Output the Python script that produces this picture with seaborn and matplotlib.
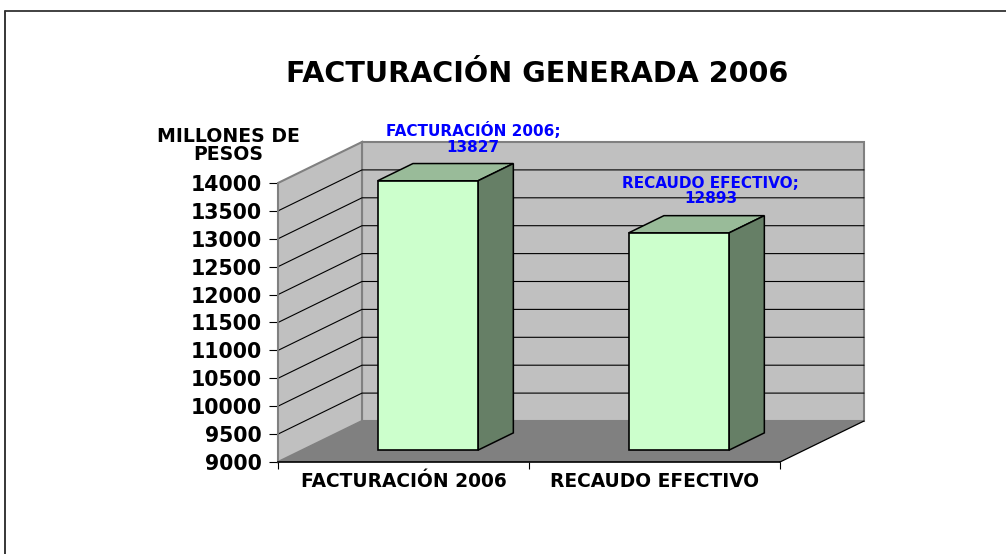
import matplotlib
matplotlib.use("Agg")
import matplotlib.pyplot as plt
import pandas as pd
import seaborn as sns

# Values
categories = ["FACTURACIÓN 2006", "RECAUDO EFECTIVO"]
values = [13827, 12893]
y_ticks = [9000, 9500, 10000, 10500, 11000, 11500, 12000, 12500, 13000, 13500, 14000]

data = pd.DataFrame({"categoria": categories, "valor": values})

sns.set_theme(style="white")
plt.rcParams["font.family"] = ["DejaVu Sans"]
plt.rcParams["font.weight"] = "bold"

W, H = 1006, 554
fig = plt.figure(figsize=(W / 100, H / 100), dpi=100)
ax = fig.add_axes([278 / W, (H - 462) / H, (780 - 278) / W, (462 - 183) / H])
ax.patch.set_alpha(0)

y_min, y_max = y_ticks[0], y_ticks[-1]
x_min, x_max = -0.5, len(categories) - 0.5
ax.set_xlim(x_min, x_max)
ax.set_ylim(y_min, y_max)

# 3D look: depth 1 is the back wall, expressed in data units
depth_x = 84 / 251
depth_y = 41 / 279 * (y_max - y_min)


def proj(x, y, d):
    return x + d * depth_x, y + d * depth_y


def face(points, color, edge="none", lw=1.0, z=1):
    xs, ys = zip(*[proj(*p) for p in points])
    ax.fill(xs, ys, facecolor=color, edgecolor=edge, linewidth=lw, zorder=z, clip_on=False)


# walls and floor
face([(x_min, y_min, 1), (x_max, y_min, 1), (x_max, y_max, 1), (x_min, y_max, 1)], "#C0C0C0", "#808080", 1.5)
face([(x_min, y_min, 0), (x_min, y_min, 1), (x_min, y_max, 1), (x_min, y_max, 0)], "#C0C0C0", "#808080", 1.5)
face([(x_min, y_min, 0), (x_max, y_min, 0), (x_max, y_min, 1), (x_min, y_min, 1)], "#808080", z=1.5)

# grid lines
for t in y_ticks[1:-1]:
    xs, ys = zip(proj(x_min, t, 0), proj(x_min, t, 1), proj(x_max, t, 1))
    ax.plot(xs, ys, color="black", lw=0.8, zorder=1.2, clip_on=False)

# floor edge on the right
xs, ys = zip(proj(x_max, y_min, 0), proj(x_max, y_min, 1))
ax.plot(xs, ys, color="black", lw=0.9, zorder=1.6, clip_on=False)

# front faces come from seaborn, then get moved into the floor
sns.barplot(data=data, x="categoria", y="valor", width=0.4, color="#CCFFCC",
            saturation=1, edgecolor="black", linewidth=1.2, ax=ax, zorder=4)
ax.set_xlim(x_min, x_max)
ax.set_ylim(y_min, y_max)

bar_front = 0.29
bar_back = 0.71
label_shift = [(45, 42), (32, 42)]
for patch, val, shift, cat in zip(ax.containers[0], values, label_shift, categories):
    x0 = patch.get_x()
    x1 = x0 + patch.get_width()
    face([(x0, val, bar_front), (x1, val, bar_front), (x1, val, bar_back), (x0, val, bar_back)],
         "#99BB99", "black", 1.1, 3)
    face([(x1, y_min, bar_front), (x1, y_min, bar_back), (x1, val, bar_back), (x1, val, bar_front)],
         "#667F66", "black", 1.1, 3)
    fx, fy = proj(x0, y_min, bar_front)
    patch.set_x(fx)
    patch.set_y(fy)
    patch.set_height(val - y_min)
    patch.set_clip_on(False)
    top = proj((x0 + x1) / 2, val, bar_front)
    ax.annotate(f"{cat};\n{val}", xy=top, xytext=shift, textcoords="offset pixels",
                ha="center", va="center", color="#0000FF", fontsize=11,
                fontweight="bold", linespacing=1.05, zorder=6, annotation_clip=False)

# axes
ax.set_xlabel("")
ax.set_ylabel("")
ax.set_yticks(y_ticks)
ax.set_xticks(range(len(categories)))
ax.set_xticks([x_min, 0.5, x_max], minor=True)
ax.tick_params(axis="y", left=True, length=6.5, width=0.8, color="black",
               labelcolor="black", labelsize=14.8, pad=5)
ax.tick_params(axis="x", which="major", bottom=False, labelcolor="black", labelsize=13.4, pad=1)
ax.tick_params(axis="x", which="minor", bottom=True, length=5, width=0.8, color="black")
sns.despine(ax=ax, top=True, right=True)
ax.spines["left"].set_color("#808080")
ax.spines["bottom"].set_color("black")
ax.spines["bottom"].set_linewidth(1.2)
for s in ax.spines.values():
    s.set_zorder(2)

fig.text(537 / W, 1 - 74 / H, "FACTURACIÓN GENERADA 2006", ha="center", va="center",
         fontsize=20.6, fontweight="bold", color="black")
fig.text(228 / W, 1 - 145.5 / H, "MILLONES DE\nPESOS", ha="center", va="center",
         fontsize=13.6, fontweight="bold", color="black", linespacing=0.95)

# chart border: only top and left show
fig.add_artist(plt.Line2D([5 / W, 5 / W], [0, 1 - 11 / H], color="black", lw=1.1))
fig.add_artist(plt.Line2D([5 / W, 1], [1 - 11 / H, 1 - 11 / H], color="#333333", lw=1.3))

fig.savefig("out.png", dpi=100, facecolor="white")
